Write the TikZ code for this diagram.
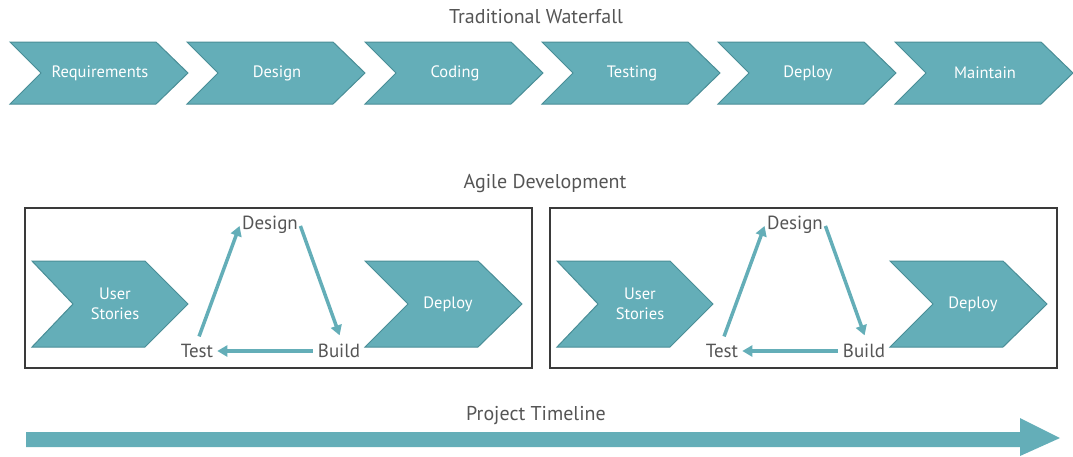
\documentclass[tikz,border=0pt]{standalone}
\usepackage{fontspec}
\setmainfont{PT Sans}
\usetikzlibrary{arrows.meta}
\definecolor{teal1}{HTML}{64AEB8}
\definecolor{tealdark}{HTML}{4A8E97}
\definecolor{txtgray}{HTML}{555555}
\definecolor{boxgray}{HTML}{3A3A3A}
\tikzset{
  chev/.style={fill=teal1,draw=tealdark,line width=1pt,line join=miter},
  chevlabel/.style={text=white,font=\fontsize{16.5}{20}\selectfont,align=center,inner sep=1pt},
  title/.style={text=txtgray,font=\fontsize{20}{24}\selectfont,inner sep=1pt},
  cyclabel/.style={text=txtgray,font=\fontsize{19}{23}\selectfont,inner sep=2pt},
  cyc/.style={draw=teal1,line width=3.5pt,-{Triangle[length=10pt,width=11pt]}},
  agilebox/.style={draw=boxgray,line width=2.8pt},
}
\newcommand{\chevron}[6]{% x, top, bottom, width, depth, notch
  \path[chev] (#1,#2) -- ({#1+#4-#5},#2) -- ({#1+#4},{(#2+#3)/2}) -- ({#1+#4-#5},#3) -- (#1,#3) -- ({#1+#6},{(#2+#3)/2}) -- cycle;}
\begin{document}
\begin{tikzpicture}[x=1pt,y=-1pt]
\useasboundingbox (0,0) rectangle (1073,456);
% Titles
\node[title] (twtitle) at (536,17) {Traditional Waterfall};
\node[title] (agtitle) at (545,184) {Agile Development};
\node[title] (pttitle) at (536,416) {Project Timeline};
% Waterfall chevrons
\foreach \x/\lab/\nm in {10/Requirements/w1,187/Design/w2,365/Coding/w3,542/Testing/w4,718/Deploy/w5,895/Maintain/w6}{
  \chevron{\x}{42}{104}{178}{32}{31}
  \node[chevlabel] (\nm) at ({\x+90},73) {\lab};
}
% Agile boxes
\foreach \dx/\s in {0/a,525/b}{
  \begin{scope}[xshift=\dx]
    \draw[agilebox] (25,208) rectangle (532,368);
    \chevron{32}{261}{347}{156}{43}{41}
    \node[chevlabel,font=\fontsize{16.5}{20}\selectfont] (stories\s) at (115,304) {User\\Stories};
    \chevron{365}{261}{347}{157}{44}{43}
    \node[chevlabel] (deploy\s) at (448,304) {Deploy};
    \node[cyclabel] (design\s) at (270,225) {Design};
    \node[cyclabel] (test\s) at (197,351) {Test};
    \node[cyclabel] (build\s) at (339,351) {Build};
    \draw[cyc,shorten <=6pt,shorten >=1pt] (test\s.north) -- (design\s.west);
    \draw[cyc,shorten <=1pt,shorten >=7pt] (design\s.east) -- ([xshift=3pt]build\s.north);
    \draw[cyc,shorten <=3pt,shorten >=2pt] (build\s.west) -- (test\s.east);
  \end{scope}
}
% Timeline arrow
\coordinate (tlstart) at (26,439.5);
\coordinate (tlend) at (1060,438);
\path[fill=teal1] (tlstart) ++(0,-7.5) -- (1020,432) -- (1020,418) -- (tlend) -- (1020,456) -- (1020,447) -- (26,447) -- cycle;
\end{tikzpicture}
\end{document}
